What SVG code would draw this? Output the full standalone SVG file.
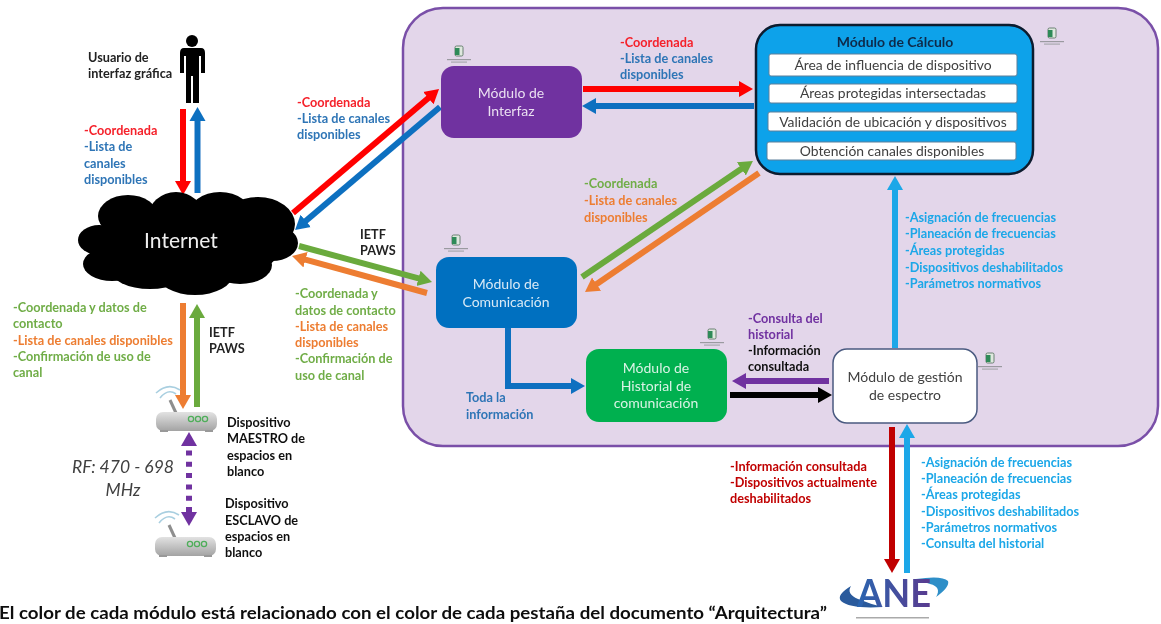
<svg xmlns="http://www.w3.org/2000/svg" width="1161" height="624" viewBox="0 0 1161 624">
<style>
text{font-family:Lato,"Open Sans","Liberation Sans",sans-serif}
.l{font-size:12.700px;font-weight:700}
.m{font-size:14px;fill:#fff;text-anchor:middle}
.i{font-size:13.900px;fill:#404040;text-anchor:middle}
.red{fill:#f5202a}.blu{fill:#2e75b6}.grn{fill:#70ad47}.org{fill:#ed7d31}.lbl{fill:#1aa7e8}.drd{fill:#c00000}.pur{fill:#7030a0}.blk{fill:#111}
.c{fill:none;stroke-width:6}
.ib{fill:#fff;stroke:#5a7f9a;stroke-width:1}
</style>
<defs>
<marker id="hr" markerUnits="userSpaceOnUse" markerWidth="14" markerHeight="18" refX="2" refY="9" orient="auto-start-reverse"><path d="M0,1 L14,9 L0,17Z" fill="#f00"/></marker>
<marker id="hb" markerUnits="userSpaceOnUse" markerWidth="14" markerHeight="18" refX="2" refY="9" orient="auto-start-reverse"><path d="M0,1 L14,9 L0,17Z" fill="#0f6fc0"/></marker>
<marker id="hg" markerUnits="userSpaceOnUse" markerWidth="14" markerHeight="18" refX="2" refY="9" orient="auto-start-reverse"><path d="M0,1 L14,9 L0,17Z" fill="#6aaa3c"/></marker>
<marker id="ho" markerUnits="userSpaceOnUse" markerWidth="14" markerHeight="18" refX="2" refY="9" orient="auto-start-reverse"><path d="M0,1 L14,9 L0,17Z" fill="#ed7d31"/></marker>
<marker id="hl" markerUnits="userSpaceOnUse" markerWidth="14" markerHeight="18" refX="2" refY="9" orient="auto-start-reverse"><path d="M0,1 L14,9 L0,17Z" fill="#1aa7e8"/></marker>
<marker id="hd" markerUnits="userSpaceOnUse" markerWidth="14" markerHeight="18" refX="2" refY="9" orient="auto-start-reverse"><path d="M0,1 L14,9 L0,17Z" fill="#c00000"/></marker>
<marker id="hp" markerUnits="userSpaceOnUse" markerWidth="14" markerHeight="18" refX="2" refY="9" orient="auto-start-reverse"><path d="M0,1 L14,9 L0,17Z" fill="#7030a0"/></marker>
<marker id="hk" markerUnits="userSpaceOnUse" markerWidth="14" markerHeight="18" refX="2" refY="9" orient="auto-start-reverse"><path d="M0,1 L14,9 L0,17Z" fill="#000"/></marker>
<linearGradient id="rb" x1="0" y1="0" x2="0" y2="1"><stop offset="0" stop-color="#e2e2e2"/><stop offset="1" stop-color="#a3a3a3"/></linearGradient>
<linearGradient id="ane" x1="0" y1="0" x2="1" y2="0"><stop offset="0" stop-color="#2a66b0"/><stop offset="1" stop-color="#5a3a8e"/></linearGradient>
<filter id="soft" x="-2%" y="-2%" width="104%" height="104%"><feGaussianBlur stdDeviation="0.6"/></filter>
<g id="doc"><rect x="-4" y="-5" width="8" height="10" rx="1.5" fill="#dfe8df" stroke="#4d6b55" stroke-width="0.8"/><rect x="-4" y="-3" width="4.5" height="7" fill="#2f8a58"/><rect x="-12" y="8" width="24" height="1.2" fill="#9a9aa0"/><rect x="-8" y="10.5" width="16" height="1.2" fill="#a8a8ae"/></g>
<g id="router"><path d="M14,2 L20,15" stroke="#8e8e8e" stroke-width="3" fill="none"/><path d="M0,-5 Q12,-16 24,-8" stroke="#a9cfe0" stroke-width="1.6" fill="none"/><path d="M4,0 Q12,-10 20,-4" stroke="#a9cfe0" stroke-width="1.6" fill="none"/><rect x="0" y="14" width="61" height="19" rx="7" fill="url(#rb)"/><rect x="4" y="32" width="8" height="2" fill="#999"/><rect x="49" y="32" width="8" height="2" fill="#999"/><circle cx="35" cy="21" r="2.6" fill="none" stroke="#4fae5a" stroke-width="1.3"/><circle cx="42" cy="21" r="2.6" fill="none" stroke="#4fae5a" stroke-width="1.3"/><circle cx="49" cy="21" r="2.6" fill="none" stroke="#4fae5a" stroke-width="1.3"/></g>
</defs>
<rect width="1161" height="624" fill="#fff"/>
<g filter="url(#soft)">
<g id="panel"><rect x="403" y="8" width="755" height="438" rx="40" fill="#e3d6ea" stroke="#7a50a8" stroke-width="2.5"/></g>

<g id="connectors">
<path class="c" stroke="#f00" marker-end="url(#hr)" d="M183,109V183"/>
<path class="c" stroke="#0f6fc0" marker-end="url(#hb)" d="M197.500,193V119"/>
<path class="c" stroke="#f00" marker-end="url(#hr)" d="M293,213L429.900,96.800"/>
<path class="c" stroke="#0f6fc0" marker-end="url(#hb)" d="M440,107L304.200,222.200"/>
<path class="c" stroke="#6aaa3c" marker-end="url(#hg)" d="M299,246L420.400,278.900"/>
<path class="c" stroke="#ed7d31" marker-end="url(#ho)" d="M427,293L303.600,259.200"/>
<path class="c" stroke="#ed7d31" marker-end="url(#ho)" d="M183,303V397"/>
<path class="c" stroke="#6aaa3c" marker-end="url(#hg)" d="M197,407V316"/>
<path class="c" stroke="#7030a0" stroke-dasharray="5 6.300" stroke-dashoffset="4.800" marker-start="url(#hp)" marker-end="url(#hp)" d="M189,444V514"/>
<path class="c" stroke="#f00" marker-end="url(#hr)" d="M583,89H741"/>
<path class="c" stroke="#0f6fc0" marker-end="url(#hb)" d="M754,106H594"/>
<path class="c" stroke="#6aaa3c" marker-end="url(#hg)" d="M582,277L743,167.700"/>
<path class="c" stroke="#ed7d31" marker-end="url(#ho)" d="M759,173L594.900,285.200"/>
<path class="c" stroke="#0f6fc0" marker-end="url(#hb)" d="M508,328V386H573"/>
<path class="c" stroke="#7030a0" marker-end="url(#hp)" d="M829,381H744"/>
<path class="c" stroke="#000" marker-end="url(#hk)" d="M730,395H820"/>
<path class="c" stroke="#1aa7e8" marker-end="url(#hl)" d="M895,348V188"/>
<path class="c" stroke="#c00000" marker-end="url(#hd)" d="M892,427V561"/>
<path class="c" stroke="#1aa7e8" marker-end="url(#hl)" d="M907,573V436"/>
</g>

<g id="usuario">
<circle cx="192" cy="41" r="6"/>
<path d="M184,48H201Q205,48 205,53V73H201V56H199V103H193V76H191V103H186V56H184V73H180V53Q180,48 184,48Z"/>
<text class="l" fill="#222"><tspan x="88" y="62">Usuario de</tspan><tspan x="88" y="78">interfaz gráfica</tspan></text>
</g>

<g id="internet" fill="#000">
<ellipse cx="186" cy="245" rx="95" ry="42"/>
<ellipse cx="128" cy="216" rx="30" ry="21"/><ellipse cx="176" cy="218" rx="28" ry="26"/><ellipse cx="220" cy="216" rx="32" ry="24"/><ellipse cx="258" cy="224" rx="37" ry="27"/>
<ellipse cx="99" cy="240" rx="21" ry="15"/><ellipse cx="112" cy="264" rx="29" ry="17"/><ellipse cx="150" cy="269" rx="40" ry="20"/><ellipse cx="195" cy="274" rx="38" ry="21"/><ellipse cx="240" cy="265" rx="32" ry="19"/><ellipse cx="272" cy="243" rx="26" ry="18"/>
<text x="181" y="248" font-size="21" fill="#eee" text-anchor="middle">Internet</text>
</g>

<g id="dispositivo-maestro"><use href="#router" x="156" y="398"/>
<text class="l" fill="#111"><tspan x="227" y="427">Dispositivo</tspan><tspan x="227" y="443">MAESTRO de</tspan><tspan x="227" y="460">espacios en</tspan><tspan x="227" y="476">blanco</tspan></text></g>
<g id="dispositivo-esclavo"><use href="#router" x="155" y="523"/>
<text class="l" fill="#111"><tspan x="225" y="508">Dispositivo</tspan><tspan x="225" y="525">ESCLAVO de</tspan><tspan x="225" y="541">espacios en</tspan><tspan x="225" y="557">blanco</tspan></text></g>

<g id="modulo-interfaz"><rect x="441" y="66" width="141" height="72" rx="13" fill="#7030a0"/><use href="#doc" x="459" y="51"/>
<text class="m" fill-opacity=".85"><tspan x="511" y="98">Módulo de</tspan><tspan x="511" y="116">Interfaz</tspan></text></g>
<g id="modulo-comunicacion"><rect x="436" y="257" width="141" height="71" rx="13" fill="#0070c0"/><use href="#doc" x="456" y="240"/>
<text class="m" fill-opacity=".85"><tspan x="506" y="289">Módulo de</tspan><tspan x="506" y="307">Comunicación</tspan></text></g>
<g id="modulo-historial"><rect x="586" y="349" width="141" height="73" rx="13" fill="#00b050"/><use href="#doc" x="712" y="334"/>
<text class="m" fill-opacity=".85"><tspan x="656" y="373">Módulo de</tspan><tspan x="656" y="391">Historial de</tspan><tspan x="656" y="408">comunicación</tspan></text></g>
<g id="modulo-gestion"><rect x="833" y="349" width="144" height="74" rx="14" fill="#fff" stroke="#4a5a80" stroke-width="1.500"/><use href="#doc" x="990" y="358"/>
<text class="m" style="fill:#404040"><tspan x="905" y="382">Módulo de gestión</tspan><tspan x="905" y="400">de espectro</tspan></text></g>

<g id="modulo-calculo"><rect x="756" y="25" width="277" height="149" rx="24" fill="#0ea2ea" stroke="#0a1a2e" stroke-width="2.500"/><use href="#doc" x="1052" y="33"/>
<text x="895" y="47" font-size="14" font-weight="700" fill="#0a2a4a" text-anchor="middle">Módulo de Cálculo</text>
<rect class="ib" x="769" y="54" width="248" height="22" rx="2"/><rect class="ib" x="769" y="84" width="248" height="19" rx="2"/><rect class="ib" x="768" y="112" width="249" height="19" rx="2"/><rect class="ib" x="767" y="142" width="249" height="18" rx="2"/>
<text class="i" x="893" y="70">Área de influencia de dispositivo</text>
<text class="i" x="893" y="98">Áreas protegidas intersectadas</text>
<text class="i" x="893" y="127">Validación de ubicación y dispositivos</text>
<text class="i" x="892" y="156">Obtención canales disponibles</text></g>

<g id="ane"><path d="M883,607Q850,609 841,601Q836,595 851,586Q846,594 858,599Q870,604 883,607Z" fill="#2a5a9c"/><path d="M916,579Q942,575 948,581Q950,587 936,597Q942,587 930,584Q924,582 916,579Z" fill="#2f8fc8"/>
<text x="857" y="607" font-size="38" font-weight="700" fill="url(#ane)" textLength="74" lengthAdjust="spacingAndGlyphs">ANE</text>
<rect x="856" y="617" width="73" height="1.500" fill="#aaa"/></g>

<g id="etiquetas">
<text class="l"><tspan class="red" x="84" y="135">-Coordenada</tspan><tspan class="blu" x="84" y="151">-Lista de</tspan><tspan class="blu" x="84" y="168">canales</tspan><tspan class="blu" x="84" y="184">disponibles</tspan></text>
<text class="l"><tspan class="red" x="297" y="107">-Coordenada</tspan><tspan class="blu" x="297" y="123">-Lista de canales</tspan><tspan class="blu" x="297" y="139">disponibles</tspan></text>
<text class="l" fill="#222"><tspan x="360" y="239">IETF</tspan><tspan x="360" y="255">PAWS</tspan></text>
<text class="l" fill="#222"><tspan x="209" y="337">IETF</tspan><tspan x="209" y="353">PAWS</tspan></text>
<text class="l"><tspan class="grn" x="295" y="298">-Coordenada y</tspan><tspan class="grn" x="295" y="315">datos de contacto</tspan><tspan class="org" x="295" y="331">-Lista de canales</tspan><tspan class="org" x="295" y="347">disponibles</tspan><tspan class="grn" x="295" y="363">-Confirmación de</tspan><tspan class="grn" x="295" y="380">uso de canal</tspan></text>
<text class="l"><tspan class="grn" x="13" y="312">-Coordenada y datos de</tspan><tspan class="grn" x="13" y="328">contacto</tspan><tspan class="org" x="13" y="345">-Lista de canales disponibles</tspan><tspan class="grn" x="13" y="361">-Confirmación de uso de</tspan><tspan class="grn" x="13" y="377">canal</tspan></text>
<text font-size="17.500" font-style="italic" fill="#404040" text-anchor="middle"><tspan x="123" y="473">RF: 470 - 698</tspan><tspan x="123" y="496">MHz</tspan></text>
<text class="l"><tspan class="red" x="620" y="47">-Coordenada</tspan><tspan class="blu" x="620" y="63">-Lista de canales</tspan><tspan class="blu" x="620" y="79">disponibles</tspan></text>
<text class="l"><tspan class="grn" x="584" y="188">-Coordenada</tspan><tspan class="org" x="584" y="205">-Lista de canales</tspan><tspan class="org" x="584" y="222">disponibles</tspan></text>
<text class="l"><tspan class="lbl" x="905" y="222">-Asignación de frecuencias</tspan><tspan class="lbl" x="905" y="238">-Planeación de frecuencias</tspan><tspan class="lbl" x="905" y="255">-Áreas protegidas</tspan><tspan class="lbl" x="905" y="272">-Dispositivos deshabilitados</tspan><tspan class="lbl" x="905" y="288">-Parámetros normativos</tspan></text>
<text class="l"><tspan class="blu" x="466" y="402">Toda la</tspan><tspan class="blu" x="466" y="419">información</tspan></text>
<text class="l"><tspan class="pur" x="748" y="323">-Consulta del</tspan><tspan class="pur" x="748" y="339">historial</tspan><tspan class="blk" x="748" y="355">-Información</tspan><tspan class="blk" x="748" y="371">consultada</tspan></text>
<text class="l"><tspan class="drd" x="730" y="471">-Información consultada</tspan><tspan class="drd" x="730" y="487">-Dispositivos actualmente</tspan><tspan class="drd" x="730" y="503">deshabilitados</tspan></text>
<text class="l"><tspan class="lbl" x="921" y="467">-Asignación de frecuencias</tspan><tspan class="lbl" x="921" y="483">-Planeación de frecuencias</tspan><tspan class="lbl" x="921" y="499">-Áreas protegidas</tspan><tspan class="lbl" x="921" y="516">-Dispositivos deshabilitados</tspan><tspan class="lbl" x="921" y="532">-Parámetros normativos</tspan><tspan class="lbl" x="921" y="548">-Consulta del historial</tspan></text>
<text x="-1" y="619" font-size="16.500" font-weight="700" fill="#111" textLength="828" lengthAdjust="spacingAndGlyphs">El color de cada módulo está relacionado con el color de cada pestaña del documento “Arquitectura”</text>
</g>
</g>
</svg>
